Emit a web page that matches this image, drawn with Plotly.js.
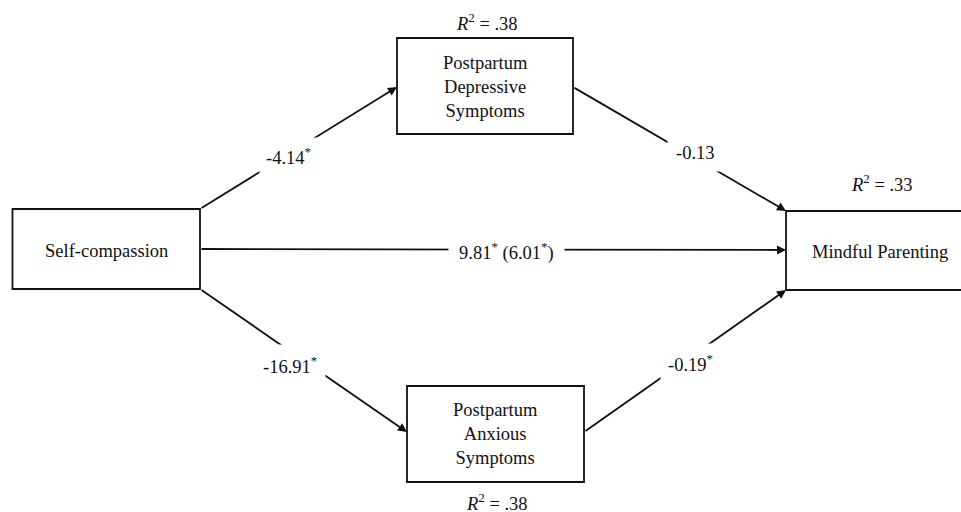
<!DOCTYPE html>
<html>
<head>
<meta charset="utf-8">
<script src="https://cdn.plot.ly/plotly-3.0.1.min.js"></script>
<style>html,body{margin:0;padding:0;background:#fff;}#chart{width:961px;height:512px;}</style>
</head>
<body>
<div id="chart"></div>
<script>
// Nodes (variables) of the path model
const nodeLabels = ['Self-compassion', 'Postpartum<br>Depressive<br>Symptoms', 'Postpartum<br>Anxious<br>Symptoms', 'Mindful Parenting'];
const nodeR2 = [null, '.38', '.38', '.33'];
// Paths (coefficients)
const pathLabels = ['-4.14<sup>*</sup>', '-0.13', '9.81<sup>*</sup> (6.01<sup>*</sup>)', '-16.91<sup>*</sup>', '-0.19<sup>*</sup>'];

// Layout geometry (pixel space)
const nodeX0 = [12.5, 397, 407, 786];
const nodeX1 = [200, 573, 584, 966];
const nodeY0 = [209, 38, 386, 211];
const nodeY1 = [289, 134, 482, 290];
const nodeTextX = [106, 485, 495.5, 880];
const nodeTextDY = [1.5, 1, 0, 1];
const r2X = [null, 487, 497, 882];
const r2Y = [null, 22, 502, 183];
const pathX0 = [200, 573, 200, 200, 584];
const pathY0 = [209, 87, 249, 289, 432];
const pathX1 = [397, 786, 786, 407, 786];
const pathY1 = [87, 211, 250, 432, 290];
const labelX = [288, 695, 506, 290, 690];
const labelY = [156, 153, 251, 365, 363];
const labelPad = [6, 8, 10, 8, 7];

const font = {family: 'Liberation Serif', size: 18.5, color: '#111'};

const shapes = nodeLabels.map((_, i) => ({
  type: 'rect', xref: 'x', yref: 'y',
  x0: nodeX0[i], x1: nodeX1[i], y0: nodeY0[i], y1: nodeY1[i],
  line: {color: '#111', width: 1.8}, fillcolor: 'rgba(0,0,0,0)'
}));

const annotations = [];
// arrows
pathLabels.forEach((_, i) => {
  annotations.push({
    x: pathX1[i], y: pathY1[i], ax: pathX0[i], ay: pathY0[i],
    xref: 'x', yref: 'y', axref: 'x', ayref: 'y',
    text: '', showarrow: true, arrowhead: 2, arrowsize: 1.0, arrowwidth: 1.8,
    arrowcolor: '#111', standoff: 0, startstandoff: 0
  });
});
// path labels with white background interrupting the line
pathLabels.forEach((t, i) => {
  annotations.push({
    x: labelX[i], y: labelY[i], xref: 'x', yref: 'y', text: t, showarrow: false,
    font: font, bgcolor: '#fff', borderpad: labelPad[i], xanchor: 'center', yanchor: 'middle'
  });
});
// node labels
nodeLabels.forEach((t, i) => {
  annotations.push({
    x: nodeTextX[i], y: (nodeY0[i] + nodeY1[i]) / 2 + nodeTextDY[i], xref: 'x', yref: 'y',
    text: t, showarrow: false, font: font, xanchor: 'center', yanchor: 'middle', align: 'center'
  });
  if (nodeR2[i]) {
    annotations.push({
      x: r2X[i], y: r2Y[i], xref: 'x', yref: 'y',
      text: '<i>R</i><sup>2</sup> = ' + nodeR2[i], showarrow: false, font: font,
      xanchor: 'center', yanchor: 'middle', borderpad: 0
    });
  }
});

const layout = {
  width: 961, height: 512,
  margin: {l: 0, r: 0, t: 0, b: 0},
  paper_bgcolor: '#fff', plot_bgcolor: '#fff',
  xaxis: {range: [0, 961], visible: false, fixedrange: true},
  yaxis: {range: [512, 0], visible: false, fixedrange: true},
  showlegend: false,
  shapes: shapes,
  annotations: annotations
};

Plotly.newPlot('chart', [{x: [], y: [], type: 'scatter', mode: 'markers', hoverinfo: 'skip'}], layout, {displayModeBar: false, staticPlot: true});
</script>
</body>
</html>
